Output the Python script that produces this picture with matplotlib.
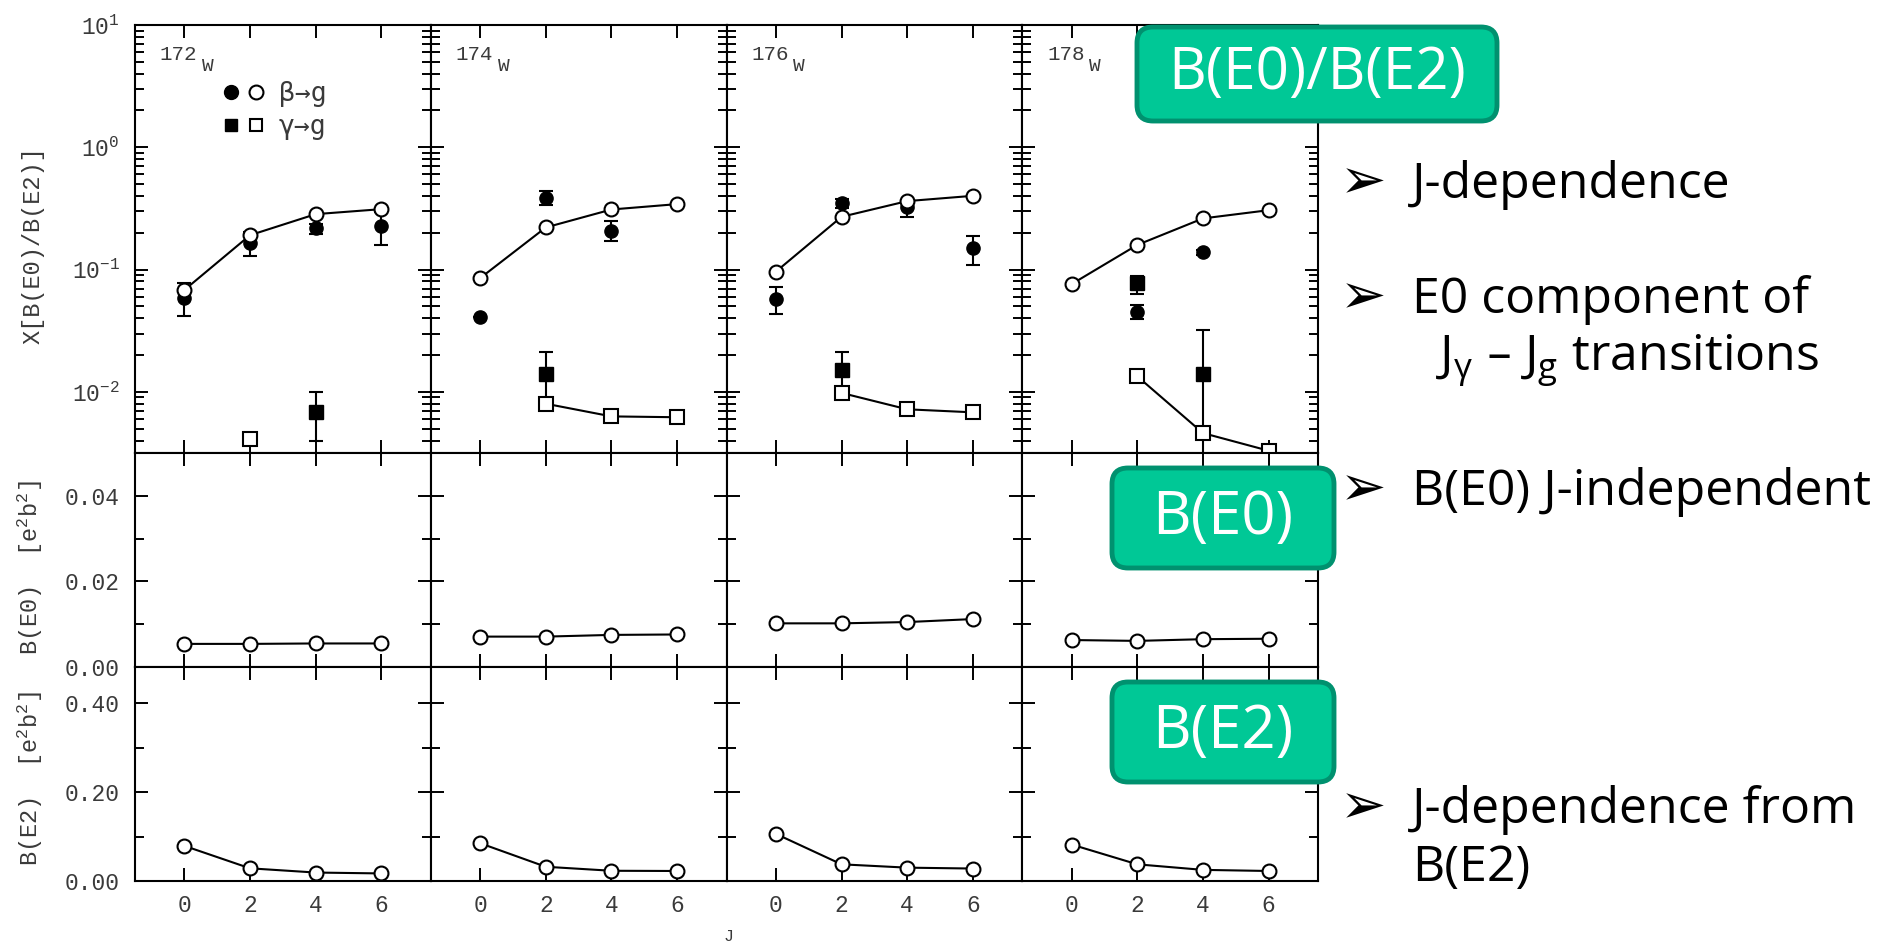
import matplotlib
matplotlib.use("Agg")
import matplotlib.pyplot as plt
from matplotlib.patches import FancyBboxPatch
from matplotlib.transforms import Affine2D
from matplotlib.lines import Line2D
from matplotlib.legend_handler import HandlerTuple

plt.rcParams['mathtext.default'] = 'regular'

# ---------------------------------------------------------------- data
isotopes = ['172', '174', '176', '178']
spins = [0, 2, 4, 6]

# X[B(E0)/B(E2)] for beta -> g, model values (open circles)
beta_model = [
    [0.068, 0.191, 0.284, 0.312],
    [0.085, 0.221, 0.310, 0.343],
    [0.096, 0.270, 0.363, 0.401],
    [0.076, 0.159, 0.262, 0.306],
]
# beta -> g, measured (filled circles)
beta_exp_J = [[0, 2, 4, 6], [0, 2, 4], [0, 2, 4, 6], [2, 4]]
beta_exp = [
    [0.059, 0.166, 0.217, 0.228],
    [0.041, 0.386, 0.208],
    [0.0576, 0.347, 0.322, 0.149],
    [0.0448, 0.138],
]
beta_err_lo = [
    [0.017, 0.036, 0.020, 0.069],
    [0.0, 0.048, 0.038],
    [0.0144, 0.030, 0.055, 0.039],
    [0.0054, 0.006],
]
beta_err_hi = [
    [0.018, 0.036, 0.020, 0.069],
    [0.0, 0.052, 0.043],
    [0.015, 0.033, 0.030, 0.040],
    [0.0068, 0.006],
]

# gamma -> g, model values (open squares)
gamma_model_J = [[2], [2, 4, 6], [2, 4, 6], [2, 4, 6]]
gamma_model = [
    [0.0041],
    [0.0080, 0.0063, 0.0062],
    [0.0098, 0.0072, 0.0068],
    [0.0134, 0.0046, 0.0033],
]
# gamma -> g, measured (filled squares)
gamma_exp_J = [[4], [2], [2], [2, 4]]
gamma_exp = [[0.0069], [0.0140], [0.0152], [0.0773, 0.0141]]
gamma_err_lo = [[0.0029], [0.0060], [0.0060], [0.0140, 0.0116]]
gamma_err_hi = [[0.0031], [0.0070], [0.0058], [0.0114, 0.0177]]

# B(E0) and B(E2) in e^2 b^2
b_e0 = [
    [0.0054, 0.0054, 0.0055, 0.0055],
    [0.0071, 0.0071, 0.0075, 0.0076],
    [0.0102, 0.0102, 0.0105, 0.0112],
    [0.0063, 0.0061, 0.0065, 0.0066],
]
b_e2 = [
    [0.079, 0.0285, 0.019, 0.017],
    [0.085, 0.032, 0.023, 0.0225],
    [0.106, 0.0375, 0.030, 0.028],
    [0.082, 0.0375, 0.025, 0.0225],
]

ratio_ticks = [1e-2, 1e-1, 1e0, 1e1]
e0_ticks = [0.0, 0.02, 0.04]
e0_minor = [0.01, 0.03]
e2_ticks = [0.0, 0.20, 0.40]
e2_minor = [0.10, 0.30]

bullets = [
    ('J-dependence', 198),
    ('E0 component of', 313),
    ('B(E0) J-independent', 505),
    ('J-dependence from', 823),
]

# ---------------------------------------------------------------- layout
W, H = 1879, 944
fig = plt.figure(figsize=(W / 100, H / 100), dpi=100)
fig.patch.set_facecolor('white')

PANEL_FONT = ['Liberation Mono', 'DejaVu Sans']
SLIDE_FONT = ['Open Sans', 'DejaVu Sans']
GREY = '#3a3a3a'

col_left = [135, 430.75, 726.5, 1022.25]
col_w = 295.75
row_span = [(25, 453), (453, 667), (667, 881)]


def add_px_axes(x0, y0, x1, y1):
    return fig.add_axes([x0 / W, 1 - y1 / H, (x1 - x0) / W, (y1 - y0) / H])


def style(ax, show_x, show_y):
    for s in ax.spines.values():
        s.set_linewidth(1.5)
    ax.tick_params(which='both', direction='in', top=True, right=True,
                   width=1.4, color='black', labelcolor=GREY, labelsize=16.5,
                   labelfontfamily=PANEL_FONT[0])
    ax.tick_params(which='major', length=9.5)
    ax.tick_params(which='minor', length=6.5)
    ax.tick_params(axis='y', pad=11)
    ax.tick_params(axis='x', pad=9)
    ax.set_xlim(-1.5, 7.5)
    ax.set_xticks(spins)
    ax.tick_params(axis='x', which='minor', bottom=False, top=False)
    ax.tick_params(labelbottom=show_x, labelleft=show_y)


line_kw = dict(color='black', lw=1.5, mfc='white', mec='black', mew=1.5)
err_kw = dict(color='black', ls='none', ms=9.5, elinewidth=1.5,
              capsize=4.7, capthick=1.5)

for i, iso in enumerate(isotopes):
    x0 = col_left[i]
    x1 = x0 + col_w

    # ---- ratio panel (log scale)
    ax = add_px_axes(x0, row_span[0][0], x1, row_span[0][1])
    ax.set_yscale('log')
    ax.set_ylim(10 ** -2.5, 10)
    ax.set_yticks(ratio_ticks)
    style(ax, False, i == 0)
    ax.errorbar(beta_exp_J[i], beta_exp[i],
                yerr=[beta_err_lo[i], beta_err_hi[i]], fmt='o', zorder=3, **err_kw)
    ax.errorbar(gamma_exp_J[i], gamma_exp[i],
                yerr=[gamma_err_lo[i], gamma_err_hi[i]], fmt='s', zorder=3, **err_kw)
    ax.plot(gamma_model_J[i], gamma_model[i], marker='s', ms=9.5, zorder=4, **line_kw)
    ax.plot(spins, beta_model[i], marker='o', ms=10, zorder=4, **line_kw)
    ax.text(0.084, 0.918, iso, transform=ax.transAxes, fontsize=15,
            family=PANEL_FONT, color=GREY, ha='left', va='baseline')
    ax.text(0.226, 0.893, 'W', transform=ax.transAxes, fontsize=14,
            family=PANEL_FONT, color=GREY, ha='left', va='baseline')
    if i == 0:
        ax.set_ylabel('X[B(E0)/B(E2)]', family=PANEL_FONT, fontsize=17, color=GREY)
        ax.yaxis.set_label_coords(-0.305, 0.486)
        h_fc = Line2D([], [], ls='none', marker='o', color='black', ms=10)
        h_oc = Line2D([], [], ls='none', marker='o', mfc='white', mec='black', mew=1.5, ms=10)
        h_fs = Line2D([], [], ls='none', marker='s', color='black', ms=9)
        h_os = Line2D([], [], ls='none', marker='s', mfc='white', mec='black', mew=1.5, ms=9)
        ax.legend([(h_fc, h_oc), (h_fs, h_os)], ['β→g', 'γ→g'],
                  handler_map={tuple: HandlerTuple(ndivide=None, pad=0.1)},
                  frameon=False, loc='upper left', bbox_to_anchor=(0.285, 0.868),
                  borderaxespad=0, borderpad=0, handlelength=1.8,
                  handletextpad=0.45, labelspacing=0.25, labelcolor=GREY,
                  prop={'family': ['DejaVu Sans Mono'], 'size': 19})

    # ---- B(E0) panel
    ax = add_px_axes(x0, row_span[1][0], x1, row_span[1][1])
    ax.set_ylim(0, 0.05)
    ax.set_yticks(e0_ticks)
    ax.set_yticks(e0_minor, minor=True)
    ax.set_yticklabels(['%.2f' % v for v in e0_ticks])
    style(ax, False, i == 0)
    ax.plot(spins, b_e0[i], marker='o', ms=10, zorder=4, **line_kw)
    if i == 0:
        ax.set_ylabel('B(E0)  [e$^2$b$^2$]', family=PANEL_FONT, fontsize=17, color=GREY)
        ax.yaxis.set_label_coords(-0.305, 0.467)

    # ---- B(E2) panel
    ax = add_px_axes(x0, row_span[2][0], x1, row_span[2][1])
    ax.set_ylim(0, 0.481)
    ax.set_yticks(e2_ticks)
    ax.set_yticks(e2_minor, minor=True)
    ax.set_yticklabels(['%.2f' % v for v in e2_ticks])
    style(ax, True, i == 0)
    ax.plot(spins, b_e2[i], marker='o', ms=10, zorder=4, **line_kw)
    if i == 0:
        ax.set_ylabel('B(E2)  [e$^2$b$^2$]', family=PANEL_FONT, fontsize=17, color=GREY)
        ax.yaxis.set_label_coords(-0.305, 0.481)

# ---------------------------------------------------------------- annotations
# pixel coordinates measured from the top-left corner of the figure
px = Affine2D().scale(1 / W, -1 / H).translate(0, 1) + fig.transFigure

fig.text(729, 941, 'J', transform=px, family=PANEL_FONT, fontsize=12,
         color=GREY, ha='center', va='baseline')

FILL = '#00c896'
EDGE = '#00916f'


def tag(x0, y0, x1, y1, label, size):
    box = FancyBboxPatch((x0, y0), x1 - x0, y1 - y0,
                         boxstyle='round,pad=0,rounding_size=16',
                         transform=px, facecolor=FILL, edgecolor=EDGE,
                         linewidth=3.5, zorder=10)
    fig.add_artist(box)
    fig.text((x0 + x1) / 2, (y0 + y1) / 2, label, transform=px,
             ha='center', va='center', color='white', fontsize=size,
             family=SLIDE_FONT, zorder=11)


tag(1137, 27, 1497, 121, 'B(E0)/B(E2)', 42)
tag(1112, 468, 1334, 568, 'B(E0)', 43)
tag(1112, 682, 1334, 782, 'B(E2)', 43)

for text, base in bullets:
    fig.text(1340, base, '\u27a2', transform=px, fontsize=40,
             family=['DejaVu Sans'], color='black', ha='left', va='baseline')
    fig.text(1412, base, text, transform=px, fontsize=36,
             family=SLIDE_FONT, color='black', ha='left', va='baseline')
fig.text(1436, 370, r'J$_\gamma$ – J$_g$ transitions', transform=px,
         fontsize=36, family=SLIDE_FONT, color='black', ha='left', va='baseline')
fig.text(1412, 881, 'B(E2)', transform=px, fontsize=36,
         family=SLIDE_FONT, color='black', ha='left', va='baseline')

fig.savefig('out.png', dpi=100, facecolor='white')
